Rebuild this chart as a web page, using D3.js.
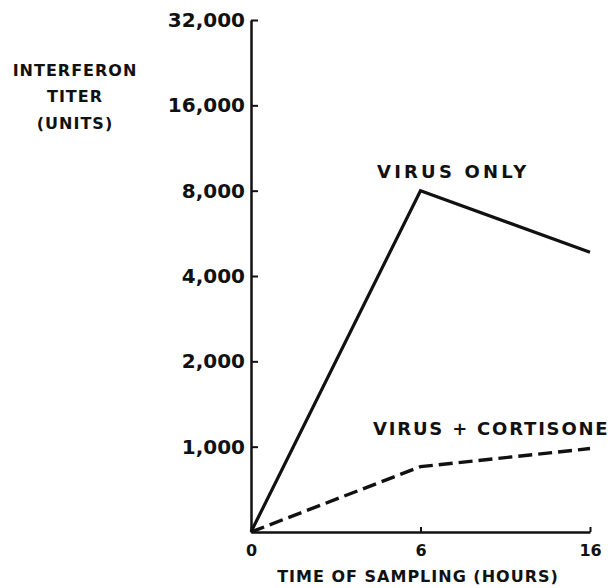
<!DOCTYPE html>
<html>
<head>
<meta charset="utf-8">
<script src="https://cdn.jsdelivr.net/npm/d3@7"></script>
<style>
    body { margin: 0; background: #fff; }
    svg text { font-family: "DejaVu Sans", sans-serif; font-weight: bold; fill: #111; }
</style>
</head>
<body>
<div id="chart"></div>
<script>
// data
const hours = ['0', '6', '16'];
const virusOnly = [500, 8000, 4850];
const virusCortisone = [500, 850, 985];
const yTicks = [1000, 2000, 4000, 8000, 16000, 32000];
const yTickLabels = ['1,000', '2,000', '4,000', '8,000', '16,000', '32,000'];
const yTitle = ['INTERFERON', 'TITER', '(UNITS)'];
const xTitle = 'TIME OF SAMPLING (HOURS)';
const seriesNames = ['VIRUS ONLY', 'VIRUS + CORTISONE'];

const width = 610, height = 588;

const svg = d3.select('#chart')
    .append('svg')
        .attr('width', width)
        .attr('height', height);

// x is evenly spaced in the original, so treat the hours as points
const x = d3.scalePoint()
    .domain(hours)
    .range([251, 590]);

// log2 axis, origin sits at 500
const y = d3.scaleLog()
    .base(2)
    .domain([500, 32000])
    .range([532, 20]);

// Y axis
const yAxis = svg.append('g')
    .attr('transform', `translate(${x(hours[0])},0)`)
    .call(d3.axisLeft(y)
        .tickValues(yTicks)
        .tickFormat((d, i) => yTickLabels[i])
        .tickSizeInner(-7)
        .tickSizeOuter(0)
        .tickPadding(6));
yAxis.select('.domain').attr('stroke', '#111').attr('stroke-width', 2.5);
yAxis.selectAll('.tick line').attr('stroke', '#111').attr('stroke-width', 2);
yAxis.selectAll('.tick text').style('font-size', '20px');

// X axis
const xAxis = svg.append('g')
    .attr('transform', `translate(0,${y(500)})`)
    .call(d3.axisBottom(x)
        .tickSizeInner(-5)
        .tickSizeOuter(0)
        .tickPadding(13));
xAxis.select('.domain').attr('stroke', '#111').attr('stroke-width', 2.5);
xAxis.selectAll('.tick line').attr('stroke', '#111').attr('stroke-width', 2);
xAxis.selectAll('.tick text').style('font-size', '16px');

// axis titles
svg.append('text')
    .attr('text-anchor', 'middle')
    .style('font-size', '16px')
    .style('letter-spacing', '1px')
    .selectAll('tspan')
    .data(yTitle)
    .join('tspan')
        .attr('x', 75)
        .attr('y', (d, i) => [76, 102, 129][i])
        .text(d => d);

svg.append('text')
    .attr('x', 418)
    .attr('y', 582)
    .attr('text-anchor', 'middle')
    .style('font-size', '16px')
    .style('letter-spacing', '1px')
    .text(xTitle);

// lines
const line = d3.line()
    .x((d, i) => x(hours[i]))
    .y(d => y(d));

svg.append('path')
    .datum(virusOnly)
    .attr('fill', 'none')
    .attr('stroke', '#111')
    .attr('stroke-width', 3.2)
    .attr('d', line);

svg.append('path')
    .datum(virusCortisone)
    .attr('fill', 'none')
    .attr('stroke', '#111')
    .attr('stroke-width', 3.4)
    .attr('stroke-dasharray', '14,6')
    .attr('d', line);

// series labels
svg.append('text')
    .attr('x', 377)
    .attr('y', 178)
    .style('font-size', '18px')
    .style('letter-spacing', '3.2px')
    .text(seriesNames[0]);

svg.append('text')
    .attr('x', 373)
    .attr('y', 435)
    .style('font-size', '18px')
    .style('letter-spacing', '1.8px')
    .text(seriesNames[1]);
</script>
</body>
</html>
